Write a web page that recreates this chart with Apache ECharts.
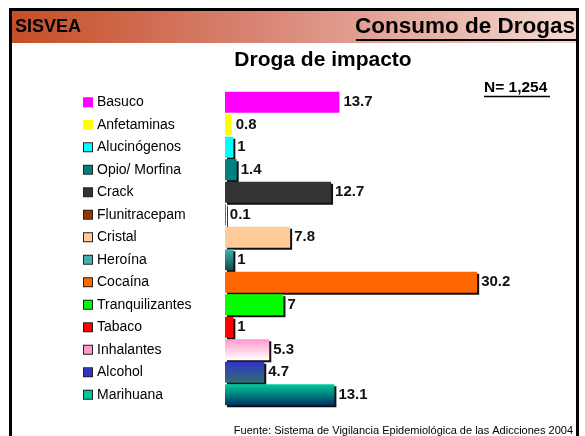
<!DOCTYPE html>
<html>
<head>
<meta charset="utf-8">
<script src="https://cdn.jsdelivr.net/npm/echarts@6/dist/echarts.min.js"></script>
<style>
  html, body { margin: 0; padding: 0; background: #fff; }
  #chart { width: 585px; height: 436px; }
</style>
</head>
<body>
<div id="chart"></div>
<script>
// drug categories, top to bottom
var categories = ['Basuco', 'Anfetaminas', 'Alucinógenos', 'Opio/ Morfina', 'Crack', 'Flunitracepam', 'Cristal',
  'Heroína', 'Cocaína', 'Tranquilizantes', 'Tabaco', 'Inhalantes', 'Alcohol', 'Marihuana']
var values = [13.7, 0.8, 1, 1.4, 12.7, 0.1, 7.8, 1, 30.2, 7, 1, 5.3, 4.7, 13.1]
// [top colour, bottom colour] for each bar
var barColors = [
  ['#ff00ff', '#ff00ff'], ['#ffff00', '#ffff00'], ['#00ffff', '#00ffff'], ['#008080', '#008080'],
  ['#333333', '#333333'], ['#993300', '#993300'], ['#ffcc99', '#ffcc99'], ['#40b0b0', '#0f4f4f'],
  ['#ff6600', '#ff6600'], ['#00ff00', '#00ff00'], ['#ff0000', '#ff0000'], ['#ff99cc', '#ffffff'],
  ['#3333cc', '#2f6f6f'], ['#00cc99', '#003366']
]
var noBorder = [true, true, false, false, false, false, false, false, false, false, false, false, false, false]
var sampleText = 'N= 1,254'
var sourceText = 'Fuente: Sistema de Vigilancia Epidemiológica de las Adicciones 2004'

var chart = echarts.init(document.getElementById('chart'))

var rich = {
  t: { fontFamily: 'Liberation Sans, Arial', fontSize: 14, color: '#000', padding: [0, 0, 0, 5] }
}
categories.forEach(function (c, i) {
  rich['s' + i] = {
    width: 8,
    height: 8,
    backgroundColor: barColors[i][0],
    borderColor: noBorder[i] ? barColors[i][0] : '#222',
    borderWidth: 1
  }
})

// no stroke: a stroked bar would cast its own shadow line inside the fill
var barData = values.map(function (v, i) {
  var col = barColors[i]
  return {
    value: v,
    itemStyle: {
      color: col[0] === col[1] ? col[0] : new echarts.graphic.LinearGradient(0, 0, 0, 1, [
        { offset: 0, color: col[0] },
        { offset: 1, color: col[1] }
      ]),
      shadowColor: noBorder[i] ? 'transparent' : '#111',
      shadowOffsetX: 2,
      shadowOffsetY: 2,
      shadowBlur: 0
    }
  }
})

chart.setOption({
  animation: false,
  backgroundColor: '#fff',
  grid: { left: 225, top: 91, height: 315, right: 26 },
  xAxis: {
    type: 'value',
    min: 0,
    max: 40,
    show: false
  },
  yAxis: {
    type: 'category',
    data: categories,
    inverse: true,
    axisLine: { show: false },
    axisTick: { show: false },
    axisLabel: {
      align: 'left',
      margin: 141,
      formatter: function (val, idx) {
        return '{s' + idx + '|}{t|' + val + '}'
      },
      rich: rich
    }
  },
  series: [{
    type: 'bar',
    data: barData,
    barWidth: 21,
    label: {
      show: true,
      position: 'right',
      distance: 4,
      fontFamily: 'Liberation Sans, Arial',
      fontWeight: 'bold',
      fontSize: 15,
      color: '#111'
    }
  }],
  graphic: [
    {
      type: 'rect',
      shape: { x: 12, y: 11, width: 564, height: 32 },
      style: {
        fill: new echarts.graphic.LinearGradient(0, 0, 1, 0, [
          { offset: 0, color: '#c64e26' },
          { offset: 0.45, color: '#d98676' },
          { offset: 1, color: '#f4d8d0' }
        ])
      },
      z: 1
    },
    {
      type: 'rect',
      shape: { x: 10.5, y: 9.5, width: 567, height: 440 },
      style: { fill: 'none', stroke: '#000', lineWidth: 3 },
      z: 5
    },
    {
      type: 'text',
      style: { text: 'SISVEA', x: 15, y: 27, textVerticalAlign: 'middle', fontFamily: 'Liberation Sans, Arial', fontWeight: 'bold', fontSize: 18, fill: '#000' },
      z: 6
    },
    {
      type: 'text',
      style: { text: 'Consumo de Drogas', x: 575, y: 27, textAlign: 'right', textVerticalAlign: 'middle', fontFamily: 'Liberation Sans, Arial', fontWeight: 'bold', fontSize: 22.5, fill: '#000' },
      z: 6
    },
    {
      type: 'line',
      shape: { x1: 356, y1: 40, x2: 576, y2: 40 },
      style: { stroke: '#000', lineWidth: 2 },
      z: 6
    },
    {
      type: 'text',
      style: { text: 'Droga de impacto', x: 323, y: 60, textAlign: 'center', textVerticalAlign: 'middle', fontFamily: 'Liberation Sans, Arial', fontWeight: 'bold', fontSize: 21, fill: '#000' },
      z: 6
    },
    {
      type: 'text',
      style: { text: sampleText, x: 484, y: 88, textVerticalAlign: 'middle', fontFamily: 'Liberation Sans, Arial', fontWeight: 'bold', fontSize: 15.5, fill: '#000' },
      z: 6
    },
    {
      type: 'line',
      shape: { x1: 484, y1: 96.5, x2: 550, y2: 96.5 },
      style: { stroke: '#000', lineWidth: 1.5 },
      z: 6
    },
    {
      type: 'text',
      style: { text: sourceText, x: 573, y: 431, textAlign: 'right', textVerticalAlign: 'middle', fontFamily: 'Liberation Sans, Arial', fontSize: 11, fill: '#000' },
      z: 6
    }
  ]
})
</script>
</body>
</html>
